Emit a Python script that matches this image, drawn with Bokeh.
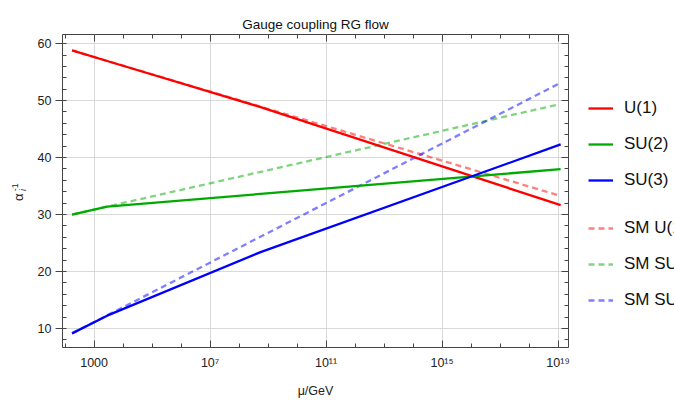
import math
from bokeh.plotting import figure
from bokeh.layouts import row
from bokeh.models import Range1d, FixedTicker, LinearAxis, Legend, LegendItem, Label
from bokeh.embed import file_html
from bokeh.resources import INLINE

# ---- data ----
# log10(mu/GeV) where the running changes slope
log_mu = [2.24, 3.45, 8.74, 19.09]
u1 = [58.8, 56.95, 48.85, 31.65]
su2 = [30.0, 31.4, 33.62, 37.96]
su3 = [9.14, 12.25, 23.4, 42.3]

# Standard-Model running
log_mu_sm = [2.24, 19.0]
sm_u1 = [58.8, 33.4]
sm_su2 = [30.0, 49.3]
sm_su3 = [9.14, 52.9]

x_ticks = [3, 7, 11, 15, 19]
x_tick_labels = ["1000", "10⁷", "10¹¹", "10¹⁵", "10¹⁹"]
x_minor = list(range(2, 20))
y_ticks = [10, 20, 30, 40, 50, 60]
y_minor = list(range(8, 62, 2))

names = ["U(1)", "SU(2)", "SU(3)"]
sm_names = ["SM U(1)", "SM SU(2)", "SM SU(3)"]
colors = ["#ff0000", "#00aa00", "#0000ff"]

FONT = "Liberation Sans"
FRAME = "#444444"
H = 401
TOP, BOTTOM = 34, 54          # frame borders (aligned across the row)
LW = 2.3

# ---------------- main plot ----------------
p = figure(width=544, height=H, output_backend="svg", toolbar_location=None,
           x_range=Range1d(1.91, 19.36), y_range=Range1d(6.66, 61.6),
           min_border_left=32, min_border_right=6, min_border_top=TOP,
           min_border_bottom=BOTTOM, background_fill_color="white",
           border_fill_color="white")

p.title.text = "Gauge coupling RG flow"
p.title.align = "center"
p.title.text_font = FONT
p.title.text_font_size = "13.5px"
p.title.text_font_style = "normal"
p.title.text_color = "#111111"
p.title.standoff = 6

p.outline_line_color = FRAME
p.outline_line_width = 1

p.xgrid.ticker = FixedTicker(ticks=x_ticks)
p.ygrid.ticker = FixedTicker(ticks=y_ticks)
p.grid.grid_line_color = "#d9d9d9"
p.grid.grid_line_width = 1

xa = p.xaxis[0]
xa.ticker = FixedTicker(ticks=x_ticks, minor_ticks=x_minor)
xa.major_label_overrides = {t: s for t, s in zip(x_ticks, x_tick_labels)}
xa.axis_label = "μ/GeV"
ya = p.yaxis[0]
ya.ticker = FixedTicker(ticks=y_ticks, minor_ticks=y_minor)

for ax in (xa, ya):
    ax.axis_line_color = None
    ax.major_tick_line_color = FRAME
    ax.minor_tick_line_color = FRAME
    ax.major_label_text_font = FONT
    ax.major_label_text_font_size = "12.5px"
    ax.major_label_text_color = "#222222"
    ax.axis_label_text_font = FONT
    ax.axis_label_text_font_size = "12.5px"
    ax.axis_label_text_font_style = "normal"
    ax.axis_label_text_color = "#222222"

xa.major_tick_in = 7
xa.major_tick_out = 0
xa.minor_tick_in = 4
xa.minor_tick_out = 0
xa.major_label_standoff = 8
xa.axis_label_standoff = 11

ya.major_tick_in = 0
ya.major_tick_out = 7
ya.minor_tick_in = 4
ya.minor_tick_out = 0
ya.major_label_standoff = 4

top = LinearAxis(ticker=FixedTicker(ticks=x_ticks, minor_ticks=x_minor))
right = LinearAxis(ticker=FixedTicker(ticks=y_ticks, minor_ticks=y_minor))
for ax in (top, right):
    ax.axis_line_color = None
    ax.major_tick_line_color = FRAME
    ax.minor_tick_line_color = FRAME
    ax.major_tick_in = 7
    ax.major_tick_out = 0
    ax.minor_tick_in = 4
    ax.minor_tick_out = 0
    ax.major_label_text_font_size = "0px"
    ax.major_label_text_color = None
    ax.major_label_standoff = 0
p.add_layout(top, "above")
p.add_layout(right, "right")

for vals, c in zip([sm_u1, sm_su2, sm_su3], colors):
    p.line(log_mu_sm, vals, line_color=c, line_alpha=0.5,
           line_width=LW, line_dash="6 4")
for vals, c in zip([u1, su2, su3], colors):
    p.line(log_mu, vals, line_color=c, line_width=LW)

# ---------------- y-axis label strip ----------------
# data y = distance from the bottom of the page (frames are aligned in the row)
p_lab = figure(width=30, height=H, output_backend="svg", toolbar_location=None,
               x_range=Range1d(0, 30), y_range=Range1d(BOTTOM, H - TOP),
               x_axis_location=None, y_axis_location=None,
               min_border_left=0, min_border_right=0,
               min_border_top=TOP, min_border_bottom=BOTTOM,
               outline_line_color=None,
               background_fill_color="white", border_fill_color="white")
p_lab.grid.visible = False
p_lab.add_layout(Label(x=18.3, y=204.3, text="α",
                       angle=math.pi / 2, text_font=FONT, text_font_size="13px",
                       text_align="center", text_baseline="middle", text_color="#222222"))
p_lab.add_layout(Label(x=22.5, y=211.5, text="i",
                       angle=math.pi / 2, text_font=FONT, text_font_size="9px",
                       text_font_style="italic",
                       text_align="center", text_baseline="middle", text_color="#222222"))
p_lab.add_layout(Label(x=14.8, y=214.3, text="-1",
                       angle=math.pi / 2, text_font=FONT, text_font_size="9px",
                       text_align="center", text_baseline="middle", text_color="#222222"))

# ---------------- legend strip ----------------
p_leg = figure(width=100, height=H, output_backend="svg", toolbar_location=None,
               x_range=Range1d(0, 1), y_range=Range1d(0, 1),
               x_axis_location=None, y_axis_location=None,
               min_border_left=0, min_border_right=0,
               min_border_top=TOP, min_border_bottom=BOTTOM,
               outline_line_color=None,
               background_fill_color="white", border_fill_color="white")
p_leg.grid.visible = False
# same data, outside this strip's ranges: only their legend glyphs show
leg_main = [p_leg.line(log_mu, vals, line_color=c, line_width=LW)
            for vals, c in zip([u1, su2, su3], colors)]
leg_sm = [p_leg.line(log_mu_sm, vals, line_color=c, line_alpha=0.5, line_width=LW,
                     line_dash="6 4")
          for vals, c in zip([sm_u1, sm_su2, sm_su3], colors)]


def make_legend(items, loc):
    return Legend(items=items, location=loc, orientation="vertical",
                  label_text_font=FONT, label_text_font_size="17px",
                  label_text_color="#111111",
                  glyph_width=25, glyph_height=20, label_height=20,
                  spacing=16, padding=0, margin=0, label_standoff=11,
                  border_line_color=None, background_fill_alpha=0)


p_leg.add_layout(make_legend([LegendItem(label=n, renderers=[r]) for n, r in zip(names, leg_main)], (14, 157)))
p_leg.add_layout(make_legend([LegendItem(label=n, renderers=[r]) for n, r in zip(sm_names, leg_sm)], (14, 37)))

layout = row(p_lab, p, p_leg, spacing=0)
open("out.html", "w").write(file_html(layout, INLINE))
